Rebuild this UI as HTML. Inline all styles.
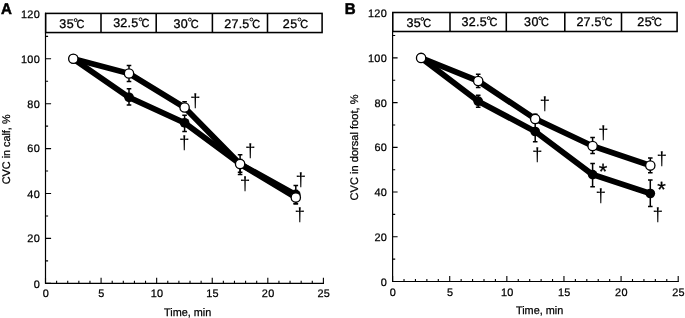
<!DOCTYPE html>
<html><head><meta charset="utf-8"><title>CVC during cooling</title>
<style>
html,body{margin:0;padding:0;background:#fff;}
body{width:685px;height:318px;overflow:hidden;font-family:"Liberation Sans",sans-serif;}
svg{display:block;will-change:transform;transform:translateZ(0)}
</style></head>
<body>
<svg width="685" height="318" viewBox="0 0 685 318" text-rendering="geometricPrecision">
<rect x="0" y="0" width="685" height="318" fill="#fff"/>
<path d="M45.5 13.4V283.3H323.4" stroke="#000" stroke-width="1.2" fill="none" stroke-linejoin="miter" stroke-linecap="square"/>
<path d="M45.5 283.3h5.6M45.5 260.85h2.6M45.5 238.4h5.6M45.5 215.95h2.6M45.5 193.5h5.6M45.5 171.05h2.6M45.5 148.6h5.6M45.5 126.15h2.6M45.5 103.7h5.6M45.5 81.25h2.6M45.5 58.8h5.6M45.5 36.35h2.6M45.5 283.3v-5.6M56.62 283.3v-2.6M67.73 283.3v-2.6M78.85 283.3v-2.6M89.96 283.3v-2.6M101.08 283.3v-5.6M112.2 283.3v-2.6M123.31 283.3v-2.6M134.43 283.3v-2.6M145.54 283.3v-2.6M156.66 283.3v-5.6M167.78 283.3v-2.6M178.89 283.3v-2.6M190.01 283.3v-2.6M201.12 283.3v-2.6M212.24 283.3v-5.6M223.36 283.3v-2.6M234.47 283.3v-2.6M245.59 283.3v-2.6M256.7 283.3v-2.6M267.82 283.3v-5.6M278.94 283.3v-2.6M290.05 283.3v-2.6M301.17 283.3v-2.6M312.28 283.3v-2.6M323.4 283.3v-5.6" stroke="#000" stroke-width="1.1" fill="none"/>
<rect x="45.7" y="13.4" width="276.4" height="19.15" fill="#fff" stroke="#000" stroke-width="1.55"/>
<path d="M101 13.4V32.55M156.2 13.4V32.55M212.4 13.4V32.55M267.5 13.4V32.55" stroke="#000" stroke-width="1.55" fill="none"/>
<text x="59.3" y="28.2" font-family="Liberation Sans, sans-serif" stroke="#000" stroke-width="0.32" font-size="12.5" letter-spacing="0.5" fill="#000">35</text>
<text x="84.4" y="28.2" text-anchor="end" textLength="7.9" lengthAdjust="spacingAndGlyphs" font-family="Liberation Sans, sans-serif" stroke="#000" stroke-width="0.32" font-size="11.8" fill="#000">C</text>
<circle cx="75.6" cy="20.1" r="1.45" fill="none" stroke="#000" stroke-width="1.0"/>
<text x="113.2" y="27.4" font-family="Liberation Sans, sans-serif" stroke="#000" stroke-width="0.32" font-size="12.5" letter-spacing="0.23" fill="#000">32.5</text>
<text x="149.3" y="27.4" text-anchor="end" textLength="7.9" lengthAdjust="spacingAndGlyphs" font-family="Liberation Sans, sans-serif" stroke="#000" stroke-width="0.32" font-size="11.8" fill="#000">C</text>
<circle cx="140.5" cy="19.3" r="1.45" fill="none" stroke="#000" stroke-width="1.0"/>
<text x="173.4" y="27.7" font-family="Liberation Sans, sans-serif" stroke="#000" stroke-width="0.32" font-size="12.5" letter-spacing="0.5" fill="#000">30</text>
<text x="198.6" y="27.7" text-anchor="end" textLength="7.9" lengthAdjust="spacingAndGlyphs" font-family="Liberation Sans, sans-serif" stroke="#000" stroke-width="0.32" font-size="11.8" fill="#000">C</text>
<circle cx="189.8" cy="19.6" r="1.45" fill="none" stroke="#000" stroke-width="1.0"/>
<text x="224.3" y="27.6" font-family="Liberation Sans, sans-serif" stroke="#000" stroke-width="0.32" font-size="12.5" letter-spacing="0.23" fill="#000">27.5</text>
<text x="260.2" y="27.6" text-anchor="end" textLength="7.9" lengthAdjust="spacingAndGlyphs" font-family="Liberation Sans, sans-serif" stroke="#000" stroke-width="0.32" font-size="11.8" fill="#000">C</text>
<circle cx="251.4" cy="19.5" r="1.45" fill="none" stroke="#000" stroke-width="1.0"/>
<text x="282.8" y="27.6" font-family="Liberation Sans, sans-serif" stroke="#000" stroke-width="0.32" font-size="12.5" letter-spacing="0.5" fill="#000">25</text>
<text x="308.2" y="27.6" text-anchor="end" textLength="7.9" lengthAdjust="spacingAndGlyphs" font-family="Liberation Sans, sans-serif" stroke="#000" stroke-width="0.32" font-size="11.8" fill="#000">C</text>
<circle cx="299.4" cy="19.5" r="1.45" fill="none" stroke="#000" stroke-width="1.0"/>
<text x="40" y="287.6" text-anchor="end" font-family="Liberation Sans, sans-serif" stroke="#000" stroke-width="0.25" font-size="10.9" letter-spacing="0.3" fill="#000">0</text>
<text x="40" y="242.3" text-anchor="end" font-family="Liberation Sans, sans-serif" stroke="#000" stroke-width="0.25" font-size="10.9" letter-spacing="0.3" fill="#000">20</text>
<text x="40" y="197.9" text-anchor="end" font-family="Liberation Sans, sans-serif" stroke="#000" stroke-width="0.25" font-size="10.9" letter-spacing="0.3" fill="#000">40</text>
<text x="40" y="152.2" text-anchor="end" font-family="Liberation Sans, sans-serif" stroke="#000" stroke-width="0.25" font-size="10.9" letter-spacing="0.3" fill="#000">60</text>
<text x="40" y="107.6" text-anchor="end" font-family="Liberation Sans, sans-serif" stroke="#000" stroke-width="0.25" font-size="10.9" letter-spacing="0.3" fill="#000">80</text>
<text x="40" y="62.7" text-anchor="end" font-family="Liberation Sans, sans-serif" stroke="#000" stroke-width="0.25" font-size="10.9" letter-spacing="0.3" fill="#000">100</text>
<text x="40" y="17.7" text-anchor="end" font-family="Liberation Sans, sans-serif" stroke="#000" stroke-width="0.25" font-size="10.9" letter-spacing="0.3" fill="#000">120</text>
<text x="45.9" y="297.35" text-anchor="middle" font-family="Liberation Sans, sans-serif" stroke="#000" stroke-width="0.25" font-size="10.9" letter-spacing="0.3" fill="#000">0</text>
<text x="101.48" y="297.35" text-anchor="middle" font-family="Liberation Sans, sans-serif" stroke="#000" stroke-width="0.25" font-size="10.9" letter-spacing="0.3" fill="#000">5</text>
<text x="157.06" y="297.35" text-anchor="middle" font-family="Liberation Sans, sans-serif" stroke="#000" stroke-width="0.25" font-size="10.9" letter-spacing="0.3" fill="#000">10</text>
<text x="212.64" y="297.35" text-anchor="middle" font-family="Liberation Sans, sans-serif" stroke="#000" stroke-width="0.25" font-size="10.9" letter-spacing="0.3" fill="#000">15</text>
<text x="268.22" y="297.35" text-anchor="middle" font-family="Liberation Sans, sans-serif" stroke="#000" stroke-width="0.25" font-size="10.9" letter-spacing="0.3" fill="#000">20</text>
<text x="323.8" y="297.35" text-anchor="middle" font-family="Liberation Sans, sans-serif" stroke="#000" stroke-width="0.25" font-size="10.9" letter-spacing="0.3" fill="#000">25</text>
<text x="187.6" y="316" text-anchor="middle" font-family="Liberation Sans, sans-serif" stroke="#000" stroke-width="0.25" font-size="11" textLength="47.2" lengthAdjust="spacingAndGlyphs" fill="#000">Time, min</text>
<text transform="translate(9.5 184.2) rotate(-90)" text-anchor="start" font-family="Liberation Sans, sans-serif" stroke="#000" stroke-width="0.25" font-size="11" textLength="69.7" lengthAdjust="spacingAndGlyphs" fill="#000">CVC in calf, %</text>
<text x="0.9" y="13.5" font-family="Liberation Sans, sans-serif" font-weight="bold" font-size="15.6" stroke="#000" stroke-width="0.5" textLength="10.9" lengthAdjust="spacingAndGlyphs" fill="#000">A</text>
<polyline points="73.3,58.8 129,97.3 184.6,122.8 240.1,164 295.8,194.7" fill="none" stroke="#000" stroke-width="5.8" stroke-linejoin="round" stroke-linecap="round"/>
<path d="M129 88.8V105.1M126.7 88.8H131.3M126.7 105.1H131.3" stroke="#000" stroke-width="1.5" fill="none"/>
<path d="M184.6 115.3V131.4M182.3 115.3H186.9M182.3 131.4H186.9" stroke="#000" stroke-width="1.5" fill="none"/>
<path d="M240.1 159.5V174.4M237.8 159.5H242.4M237.8 174.4H242.4" stroke="#000" stroke-width="1.5" fill="none"/>
<path d="M295.8 190.5V203.7M293.5 190.5H298.1M293.5 203.7H298.1" stroke="#000" stroke-width="1.5" fill="none"/>
<circle cx="73.3" cy="58.8" r="4.85" fill="#000"/>
<circle cx="129" cy="97.3" r="4.85" fill="#000"/>
<circle cx="184.6" cy="122.8" r="4.85" fill="#000"/>
<circle cx="240.1" cy="164" r="4.85" fill="#000"/>
<circle cx="295.8" cy="194.7" r="4.85" fill="#000"/>
<polyline points="73.3,58.8 129,73.5 184.6,107.5 240.1,164.1 295.8,197.6" fill="none" stroke="#000" stroke-width="5.8" stroke-linejoin="round" stroke-linecap="round"/>
<path d="M129 65.5V81.6M126.7 65.5H131.3M126.7 81.6H131.3" stroke="#000" stroke-width="1.5" fill="none"/>
<path d="M184.6 101.7V111M182.3 101.7H186.9M182.3 111H186.9" stroke="#000" stroke-width="1.5" fill="none"/>
<path d="M240.1 154.7V172.2M237.8 154.7H242.4M237.8 172.2H242.4" stroke="#000" stroke-width="1.5" fill="none"/>
<path d="M295.8 185.4V203.7M293.5 185.4H298.1M293.5 203.7H298.1" stroke="#000" stroke-width="1.5" fill="none"/>
<circle cx="73.3" cy="58.8" r="4.65" fill="#fff" stroke="#000" stroke-width="1.3"/>
<circle cx="129" cy="73.5" r="4.65" fill="#fff" stroke="#000" stroke-width="1.3"/>
<circle cx="184.6" cy="107.5" r="4.65" fill="#fff" stroke="#000" stroke-width="1.3"/>
<circle cx="240.1" cy="164.1" r="4.65" fill="#fff" stroke="#000" stroke-width="1.3"/>
<circle cx="295.8" cy="197.6" r="4.65" fill="#fff" stroke="#000" stroke-width="1.3"/>
<text x="195.4" y="107" text-anchor="middle" font-family="Liberation Sans, sans-serif" font-size="19" fill="#000">†</text>
<text x="184.4" y="148.5" text-anchor="middle" font-family="Liberation Sans, sans-serif" font-size="19" fill="#000">†</text>
<text x="250.2" y="156.7" text-anchor="middle" font-family="Liberation Sans, sans-serif" font-size="19" fill="#000">†</text>
<text x="245.1" y="190.3" text-anchor="middle" font-family="Liberation Sans, sans-serif" font-size="19" fill="#000">†</text>
<text x="300.8" y="186.1" text-anchor="middle" font-family="Liberation Sans, sans-serif" font-size="19" fill="#000">†</text>
<text x="299.7" y="221.4" text-anchor="middle" font-family="Liberation Sans, sans-serif" font-size="19" fill="#000">†</text>
<path d="M392.6 12.5V281.5H678.2" stroke="#000" stroke-width="1.2" fill="none" stroke-linejoin="miter" stroke-linecap="square"/>
<path d="M392.6 281.5h5M392.6 259.14h2.6M392.6 236.78h5M392.6 214.42h2.6M392.6 192.06h5M392.6 169.7h2.6M392.6 147.34h5M392.6 124.98h2.6M392.6 102.62h5M392.6 80.26h2.6M392.6 57.9h5M392.6 35.54h2.6M392.6 281.5v-5.6M404.02 281.5v-2.6M415.45 281.5v-2.6M426.87 281.5v-2.6M438.3 281.5v-2.6M449.72 281.5v-5.6M461.14 281.5v-2.6M472.57 281.5v-2.6M483.99 281.5v-2.6M495.42 281.5v-2.6M506.84 281.5v-5.6M518.26 281.5v-2.6M529.69 281.5v-2.6M541.11 281.5v-2.6M552.54 281.5v-2.6M563.96 281.5v-5.6M575.38 281.5v-2.6M586.81 281.5v-2.6M598.23 281.5v-2.6M609.66 281.5v-2.6M621.08 281.5v-5.6M632.5 281.5v-2.6M643.93 281.5v-2.6M655.35 281.5v-2.6M666.78 281.5v-2.6M678.2 281.5v-5.6" stroke="#000" stroke-width="1.1" fill="none"/>
<rect x="392.8" y="12.5" width="284.3" height="19" fill="#fff" stroke="#000" stroke-width="1.55"/>
<path d="M450 12.5V31.5M506.3 12.5V31.5M564.8 12.5V31.5M621.5 12.5V31.5" stroke="#000" stroke-width="1.55" fill="none"/>
<text x="406.4" y="27.1" font-family="Liberation Sans, sans-serif" stroke="#000" stroke-width="0.32" font-size="12.5" letter-spacing="0.5" fill="#000">35</text>
<text x="431.1" y="27.1" text-anchor="end" textLength="7.9" lengthAdjust="spacingAndGlyphs" font-family="Liberation Sans, sans-serif" stroke="#000" stroke-width="0.32" font-size="11.8" fill="#000">C</text>
<circle cx="422.3" cy="19" r="1.45" fill="none" stroke="#000" stroke-width="1.0"/>
<text x="461.6" y="26.2" font-family="Liberation Sans, sans-serif" stroke="#000" stroke-width="0.32" font-size="12.5" letter-spacing="0.23" fill="#000">32.5</text>
<text x="497.5" y="26.2" text-anchor="end" textLength="7.9" lengthAdjust="spacingAndGlyphs" font-family="Liberation Sans, sans-serif" stroke="#000" stroke-width="0.32" font-size="11.8" fill="#000">C</text>
<circle cx="488.7" cy="18.1" r="1.45" fill="none" stroke="#000" stroke-width="1.0"/>
<text x="524.1" y="26.4" font-family="Liberation Sans, sans-serif" stroke="#000" stroke-width="0.32" font-size="12.5" letter-spacing="0.5" fill="#000">30</text>
<text x="549" y="26.4" text-anchor="end" textLength="7.9" lengthAdjust="spacingAndGlyphs" font-family="Liberation Sans, sans-serif" stroke="#000" stroke-width="0.32" font-size="11.8" fill="#000">C</text>
<circle cx="540.2" cy="18.3" r="1.45" fill="none" stroke="#000" stroke-width="1.0"/>
<text x="576.4" y="26.3" font-family="Liberation Sans, sans-serif" stroke="#000" stroke-width="0.32" font-size="12.5" letter-spacing="0.23" fill="#000">27.5</text>
<text x="612.3" y="26.3" text-anchor="end" textLength="7.9" lengthAdjust="spacingAndGlyphs" font-family="Liberation Sans, sans-serif" stroke="#000" stroke-width="0.32" font-size="11.8" fill="#000">C</text>
<circle cx="603.5" cy="18.2" r="1.45" fill="none" stroke="#000" stroke-width="1.0"/>
<text x="637.2" y="26.3" font-family="Liberation Sans, sans-serif" stroke="#000" stroke-width="0.32" font-size="12.5" letter-spacing="0.5" fill="#000">25</text>
<text x="661.9" y="26.3" text-anchor="end" textLength="7.9" lengthAdjust="spacingAndGlyphs" font-family="Liberation Sans, sans-serif" stroke="#000" stroke-width="0.32" font-size="11.8" fill="#000">C</text>
<circle cx="653.1" cy="18.2" r="1.45" fill="none" stroke="#000" stroke-width="1.0"/>
<text x="387.1" y="285.7" text-anchor="end" font-family="Liberation Sans, sans-serif" stroke="#000" stroke-width="0.25" font-size="10.9" letter-spacing="0.3" fill="#000">0</text>
<text x="387.1" y="240.68" text-anchor="end" font-family="Liberation Sans, sans-serif" stroke="#000" stroke-width="0.25" font-size="10.9" letter-spacing="0.3" fill="#000">20</text>
<text x="387.1" y="195.96" text-anchor="end" font-family="Liberation Sans, sans-serif" stroke="#000" stroke-width="0.25" font-size="10.9" letter-spacing="0.3" fill="#000">40</text>
<text x="387.1" y="151.24" text-anchor="end" font-family="Liberation Sans, sans-serif" stroke="#000" stroke-width="0.25" font-size="10.9" letter-spacing="0.3" fill="#000">60</text>
<text x="387.1" y="106.52" text-anchor="end" font-family="Liberation Sans, sans-serif" stroke="#000" stroke-width="0.25" font-size="10.9" letter-spacing="0.3" fill="#000">80</text>
<text x="387.1" y="61.8" text-anchor="end" font-family="Liberation Sans, sans-serif" stroke="#000" stroke-width="0.25" font-size="10.9" letter-spacing="0.3" fill="#000">100</text>
<text x="387.1" y="16.78" text-anchor="end" font-family="Liberation Sans, sans-serif" stroke="#000" stroke-width="0.25" font-size="10.9" letter-spacing="0.3" fill="#000">120</text>
<text x="393" y="295.5" text-anchor="middle" font-family="Liberation Sans, sans-serif" stroke="#000" stroke-width="0.25" font-size="10.9" letter-spacing="0.3" fill="#000">0</text>
<text x="450.12" y="295.5" text-anchor="middle" font-family="Liberation Sans, sans-serif" stroke="#000" stroke-width="0.25" font-size="10.9" letter-spacing="0.3" fill="#000">5</text>
<text x="507.24" y="295.5" text-anchor="middle" font-family="Liberation Sans, sans-serif" stroke="#000" stroke-width="0.25" font-size="10.9" letter-spacing="0.3" fill="#000">10</text>
<text x="564.36" y="295.5" text-anchor="middle" font-family="Liberation Sans, sans-serif" stroke="#000" stroke-width="0.25" font-size="10.9" letter-spacing="0.3" fill="#000">15</text>
<text x="621.48" y="295.5" text-anchor="middle" font-family="Liberation Sans, sans-serif" stroke="#000" stroke-width="0.25" font-size="10.9" letter-spacing="0.3" fill="#000">20</text>
<text x="678.6" y="295.5" text-anchor="middle" font-family="Liberation Sans, sans-serif" stroke="#000" stroke-width="0.25" font-size="10.9" letter-spacing="0.3" fill="#000">25</text>
<text x="539.6" y="314.2" text-anchor="middle" font-family="Liberation Sans, sans-serif" stroke="#000" stroke-width="0.25" font-size="11" textLength="47.3" lengthAdjust="spacingAndGlyphs" fill="#000">Time, min</text>
<text transform="translate(358.3 200.4) rotate(-90)" text-anchor="start" font-family="Liberation Sans, sans-serif" stroke="#000" stroke-width="0.25" font-size="11" textLength="105.9" lengthAdjust="spacingAndGlyphs" fill="#000">CVC in dorsal foot, %</text>
<text x="344.8" y="13.5" font-family="Liberation Sans, sans-serif" font-weight="bold" font-size="15.6" stroke="#000" stroke-width="0.5" textLength="10.9" lengthAdjust="spacingAndGlyphs" fill="#000">B</text>
<polyline points="421.1,57.9 478.2,101.2 535.2,131.5 592.6,174.6 650.3,193.5" fill="none" stroke="#000" stroke-width="5.8" stroke-linejoin="round" stroke-linecap="round"/>
<path d="M478.2 95.2V107.3M475.9 95.2H480.5M475.9 107.3H480.5" stroke="#000" stroke-width="1.5" fill="none"/>
<path d="M535.2 121.5V141.7M532.9 121.5H537.5M532.9 141.7H537.5" stroke="#000" stroke-width="1.5" fill="none"/>
<path d="M592.6 163.6V186.7M590.3 163.6H594.9M590.3 186.7H594.9" stroke="#000" stroke-width="1.5" fill="none"/>
<path d="M650.3 180V206.6M648 180H652.6M648 206.6H652.6" stroke="#000" stroke-width="1.5" fill="none"/>
<circle cx="421.1" cy="57.9" r="4.85" fill="#000"/>
<circle cx="478.2" cy="101.2" r="4.85" fill="#000"/>
<circle cx="535.2" cy="131.5" r="4.85" fill="#000"/>
<circle cx="592.6" cy="174.6" r="4.85" fill="#000"/>
<circle cx="650.3" cy="193.5" r="4.85" fill="#000"/>
<polyline points="421.1,57.9 478.2,81 535.2,118.9 592.6,146 650.3,165.6" fill="none" stroke="#000" stroke-width="5.8" stroke-linejoin="round" stroke-linecap="round"/>
<path d="M478.2 74.2V87.4M475.9 74.2H480.5M475.9 87.4H480.5" stroke="#000" stroke-width="1.5" fill="none"/>
<path d="M535.2 114.3V123M532.9 114.3H537.5M532.9 123H537.5" stroke="#000" stroke-width="1.5" fill="none"/>
<path d="M592.6 137.5V153.6M590.3 137.5H594.9M590.3 153.6H594.9" stroke="#000" stroke-width="1.5" fill="none"/>
<path d="M650.3 158.1V172.8M648 158.1H652.6M648 172.8H652.6" stroke="#000" stroke-width="1.5" fill="none"/>
<circle cx="421.1" cy="57.9" r="4.65" fill="#fff" stroke="#000" stroke-width="1.3"/>
<circle cx="478.2" cy="81" r="4.65" fill="#fff" stroke="#000" stroke-width="1.3"/>
<circle cx="535.2" cy="118.9" r="4.65" fill="#fff" stroke="#000" stroke-width="1.3"/>
<circle cx="592.6" cy="146" r="4.65" fill="#fff" stroke="#000" stroke-width="1.3"/>
<circle cx="650.3" cy="165.6" r="4.65" fill="#fff" stroke="#000" stroke-width="1.3"/>
<text x="544.8" y="109.8" text-anchor="middle" font-family="Liberation Sans, sans-serif" font-size="19" fill="#000">†</text>
<text x="537.2" y="161.3" text-anchor="middle" font-family="Liberation Sans, sans-serif" font-size="19" fill="#000">†</text>
<text x="603.4" y="139.3" text-anchor="middle" font-family="Liberation Sans, sans-serif" font-size="19" fill="#000">†</text>
<text x="600.9" y="201.5" text-anchor="middle" font-family="Liberation Sans, sans-serif" font-size="19" fill="#000">†</text>
<text x="661.8" y="165.2" text-anchor="middle" font-family="Liberation Sans, sans-serif" font-size="19" fill="#000">†</text>
<text x="657.8" y="221.3" text-anchor="middle" font-family="Liberation Sans, sans-serif" font-size="19" fill="#000">†</text>
<text x="603.1" y="178.8" text-anchor="middle" font-family="Liberation Sans, sans-serif" font-size="22" stroke="#000" stroke-width="0.3" fill="#000">*</text>
<text x="661.5" y="196.7" text-anchor="middle" font-family="Liberation Sans, sans-serif" font-size="22" stroke="#000" stroke-width="0.3" fill="#000">*</text>
</svg>
</body></html>
